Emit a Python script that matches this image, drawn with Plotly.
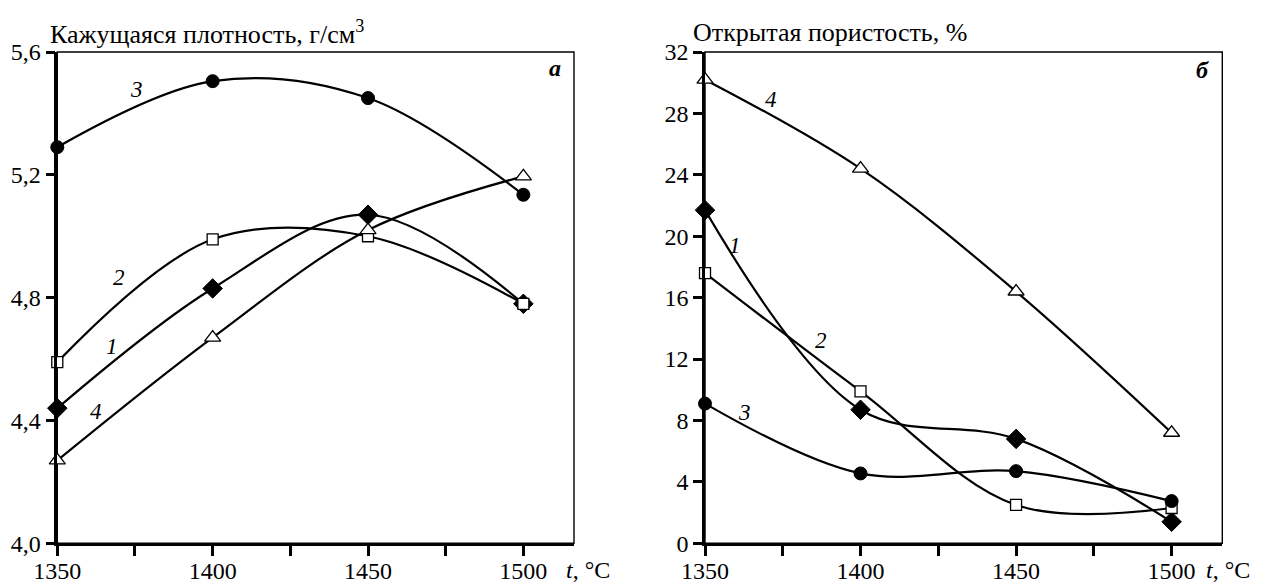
import plotly.graph_objects as go

# ---------------- data ----------------
temps = [1350, 1400, 1450, 1500]

# (a) apparent density, g/cm3
dens_1 = [4.44, 4.83, 5.07, 4.78]
dens_2 = [4.59, 4.99, 5.00, 4.78]
dens_3 = [5.29, 5.505, 5.45, 5.135]
dens_4 = [4.27, 4.67, 5.02, 5.195]

# (б) open porosity, %
por_1 = [21.7, 8.7, 6.8, 1.4]
por_2 = [17.6, 9.9, 2.5, 2.3]
por_3 = [9.1, 4.55, 4.7, 2.75]
por_4 = [30.2, 24.4, 16.4, 7.2]

x_ticks = [1350, 1400, 1450, 1500]
x_ticktext = ["1350", "1400", "1450", "1500"]
x_minor = [1375, 1425, 1475]
dens_ticks = [4.0, 4.4, 4.8, 5.2, 5.6]
dens_ticktext = ["4,0", "4,4", "4,8", "5,2", "5,6"]
por_ticks = [0, 4, 8, 12, 16, 20, 24, 28, 32]
por_ticktext = ["0", "4", "8", "12", "16", "20", "24", "28", "32"]

series_labels = ["1", "2", "3", "4"]
dens_label_pos = [(1367.5, 4.64), (1370, 4.865), (1375.5, 5.478), (1362.5, 4.43)]
por_label_pos = [(1359.8, 19.4), (1387.3, 13.2), (1362.8, 8.55), (1371.2, 28.9)]

# ---------------- style / layout helpers ----------------
W, H = 1265, 585
OFF = 8  # page body margin


def px(x):
    return (x - OFF) / W


def py(y):
    return 1 - (y - OFF) / H


SERIF = "Liberation Serif"
TICK_SIZE = 24
markers = [
    dict(symbol="diamond", size=15, color="black", line=dict(color="black", width=1)),
    dict(symbol="square", size=11, color="white", line=dict(color="black", width=1.3)),
    dict(symbol="circle", size=13, color="black", line=dict(color="black", width=1)),
    dict(symbol="triangle-up", size=14, color="white", line=dict(color="black", width=1.3)),
]

fig = go.Figure()

dens_series = [dens_1, dens_2, dens_3, dens_4]
por_series = [por_1, por_2, por_3, por_4]

for i, ys in enumerate(dens_series):
    fig.add_trace(go.Scatter(
        x=temps, y=ys, mode="lines+markers", xaxis="x", yaxis="y",
        line=dict(color="black", width=2.2, shape="spline", smoothing=1.0),
        marker=markers[i], cliponaxis=False, showlegend=False))

for i, ys in enumerate(por_series):
    fig.add_trace(go.Scatter(
        x=temps, y=ys, mode="lines+markers", xaxis="x2", yaxis="y2",
        line=dict(color="black", width=2.2, shape="spline", smoothing=1.0),
        marker=markers[i], cliponaxis=False, showlegend=False))

xcommon = dict(
    range=[1350, 1516.3], tickvals=x_ticks, ticktext=x_ticktext,
    ticks="outside", ticklen=10, tickwidth=2.5, tickcolor="black",
    ticklabelstandoff=-6,
    showline=True, linewidth=2.6, linecolor="black", showgrid=False, zeroline=False,
    tickfont=dict(family=SERIF, size=TICK_SIZE, color="black"),
    minor=dict(ticks="outside", tickvals=x_minor, ticklen=10, tickwidth=2.5,
               tickcolor="black", showgrid=False),
    fixedrange=True, automargin=False,
)
ycommon = dict(
    ticks="outside", ticklen=9, tickwidth=2.5, tickcolor="black",
    showline=True, linewidth=2.6, linecolor="black", showgrid=False, zeroline=False,
    tickfont=dict(family=SERIF, size=TICK_SIZE, color="black"),
    fixedrange=True, automargin=False,
)

ydom = [py(543.3), py(52)]
fig.update_layout(
    width=W, height=H,
    margin=dict(l=0, r=0, t=0, b=0, autoexpand=False),
    font=dict(family=SERIF, color="black"),
    paper_bgcolor="white", plot_bgcolor="white",
    xaxis=dict(domain=[px(57.3), px(574)], anchor="y", **xcommon),
    yaxis=dict(domain=ydom, anchor="x", range=[4.0, 5.6],
               tickvals=dens_ticks, ticktext=dens_ticktext, **ycommon),
    xaxis2=dict(domain=[px(705), px(1222.3)], anchor="y2", **xcommon),
    yaxis2=dict(domain=ydom, anchor="x2", range=[0, 32],
                tickvals=por_ticks, ticktext=por_ticktext, **ycommon),
)

# thin frame (top/right borders)
for xr, yr in [("x domain", "y domain"), ("x2 domain", "y2 domain")]:
    fig.add_shape(type="rect", xref=xr, yref=yr, x0=0, x1=1, y0=0, y1=1,
                  line=dict(color="black", width=1.4), layer="below")

annotations = []
for lab, (lx, ly) in zip(series_labels, dens_label_pos):
    annotations.append(dict(x=lx, y=ly, xref="x", yref="y", text="<i>%s</i>" % lab,
                            showarrow=False, font=dict(family=SERIF, size=23, color="black")))
for lab, (lx, ly) in zip(series_labels, por_label_pos):
    annotations.append(dict(x=lx, y=ly, xref="x2", yref="y2", text="<i>%s</i>" % lab,
                            showarrow=False, font=dict(family=SERIF, size=23, color="black")))

# panel letters
annotations.append(dict(x=0.978, y=0.967, xref="x domain", yref="y domain", text="<b><i>а</i></b>",
                        showarrow=False, xanchor="right", yanchor="middle",
                        font=dict(family=SERIF, size=24, color="black")))
annotations.append(dict(x=0.978, y=0.963, xref="x2 domain", yref="y2 domain", text="<b><i>б</i></b>",
                        showarrow=False, xanchor="right", yanchor="middle",
                        font=dict(family=SERIF, size=24, color="black")))

# axis titles
annotations.append(dict(x=px(48), y=py(33), xref="paper", yref="paper",
                        text="Кажущаяся плотность, г/см<sup>3</sup>", showarrow=False,
                        xanchor="left", yanchor="middle",
                        font=dict(family=SERIF, size=26, color="black")))
annotations.append(dict(x=px(691), y=py(33), xref="paper", yref="paper",
                        text="Открытая пористость, %", showarrow=False,
                        xanchor="left", yanchor="middle",
                        font=dict(family=SERIF, size=26, color="black")))
annotations.append(dict(x=px(564), y=py(570), xref="paper", yref="paper",
                        text="<i>t</i>, °C", showarrow=False, xanchor="left", yanchor="middle",
                        font=dict(family=SERIF, size=TICK_SIZE, color="black")))
annotations.append(dict(x=px(1204), y=py(570), xref="paper", yref="paper",
                        text="<i>t</i>, °C", showarrow=False, xanchor="left", yanchor="middle",
                        font=dict(family=SERIF, size=TICK_SIZE, color="black")))

fig.update_layout(annotations=annotations)

fig.write_html("out.html")
